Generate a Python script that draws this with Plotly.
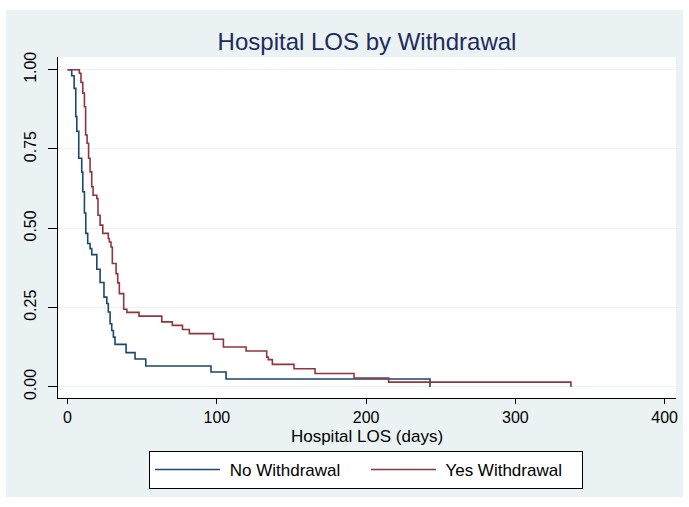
import plotly.graph_objects as go

# Kaplan-Meier step data
no_t = [0, 2.8, 4.4, 5.5, 6.2, 7.5, 9.5, 10.2, 11.3, 12.2, 13.5, 15.1, 16.2, 19.6, 21.8,
        24.4, 26.3, 27.3, 28.5, 29.6, 30.7, 31.8, 39.2, 45.2, 52.4, 96.1, 106.2, 242.8]
no_s = [1.0, 0.981, 0.941, 0.852, 0.806, 0.721, 0.677, 0.615, 0.548, 0.484, 0.452, 0.436,
        0.417, 0.371, 0.329, 0.283, 0.263, 0.236, 0.199, 0.178, 0.157, 0.134, 0.108, 0.088,
        0.066, 0.047, 0.025, 0.0]

yes_t = [0, 7.9, 9.0, 10.2, 11.3, 12.1, 13.1, 14.1, 15.1, 16.2, 17.1, 19.6, 20.4, 21.8, 23.6,
         27.3, 28.0, 29.1, 30.0, 32.5, 33.6, 34.7, 37.6, 39.7, 47.9, 63.1, 70.2, 77.0, 81.6,
         97.7, 104.4, 119.6, 133.4, 134.5, 137.2, 151.7, 165.8, 191.9, 215.1, 337.2]
yes_s = [1.0, 0.989, 0.960, 0.926, 0.883, 0.794, 0.768, 0.721, 0.678, 0.631, 0.604, 0.594,
         0.541, 0.510, 0.484, 0.468, 0.457, 0.441, 0.389, 0.357, 0.328, 0.294, 0.245, 0.235,
         0.223, 0.205, 0.194, 0.181, 0.168, 0.150, 0.126, 0.113, 0.094, 0.086, 0.071, 0.057,
         0.042, 0.028, 0.015, 0.0]

series_names = [" No Withdrawal", " Yes Withdrawal"]

x_ticks = [0, 100, 200, 300, 400]
y_ticks = [0, 0.25, 0.5, 0.75, 1.0]
y_ticktext = ["0.00", "0.25", "0.50", "0.75", "1.00"]

FONT = "Liberation Sans, Arial, sans-serif"
NAVY = "#1A476F"
MAROON = "#90353B"
BG = "#EAF2F3"

fig = go.Figure()
fig.add_trace(go.Scatter(x=no_t, y=no_s, mode="lines", name=series_names[0],
                         line=dict(color=NAVY, width=1.6, shape="hv")))
fig.add_trace(go.Scatter(x=yes_t, y=yes_s, mode="lines", name=series_names[1],
                         line=dict(color=MAROON, width=1.6, shape="hv")))

W, H = 689, 507
L, R, T, B = 58, 13, 57, 109
pw, ph = W - L - R, H - T - B

def px(x):
    return (x - L) / pw

def py(y):
    return (H - B - y) / ph

fig.update_layout(
    width=W, height=H,
    margin=dict(l=L, r=R, t=T, b=B),
    paper_bgcolor="white",
    plot_bgcolor="rgba(0,0,0,0)",
    font=dict(family=FONT, color="black"),
    title=dict(text="Hospital LOS by Withdrawal", x=0.5 * (px(58) + px(676)), xref="paper",
               xanchor="center", y=1 - 42 / H, yanchor="middle",
               font=dict(size=24, color="#1E2B5C", family=FONT)),
    shapes=[
        dict(type="rect", xref="paper", yref="paper", x0=px(6), x1=px(683), y0=py(497), y1=py(10),
             fillcolor=BG, line=dict(width=0), layer="below"),
        dict(type="rect", xref="paper", yref="paper", x0=0, x1=1, y0=0, y1=1,
             fillcolor="white", line=dict(width=0), layer="below"),
    ],
    xaxis=dict(range=[-6.4, 407.6], tickvals=x_ticks, ticks="outside", ticklen=5,
               tickcolor="black", showline=True, linecolor="black", linewidth=1,
               showgrid=False, zeroline=False, tickfont=dict(size=16),
               title=dict(text="Hospital LOS (days)", font=dict(size=17), standoff=4)),
    yaxis=dict(range=[-0.035, 1.040], tickvals=y_ticks, ticktext=y_ticktext, tickangle=-90,
               ticks="outside", ticklen=9, tickcolor="black", showline=True,
               linecolor="black", linewidth=1, showgrid=True, gridcolor=BG, gridwidth=1,
               zeroline=False, tickfont=dict(size=16), ticklabelstandoff=6),
    legend=dict(orientation="h", x=0.5 * (px(150) + px(582)), xanchor="center",
                y=py(451), yanchor="top", bgcolor="white", bordercolor="black",
                borderwidth=1, font=dict(size=17), itemwidth=65,
                entrywidth=136, entrywidthmode="pixels"),
    showlegend=True,
)

fig.write_html("out.html", config={"displayModeBar": False},
               post_script="document.body.style.margin='0';")
